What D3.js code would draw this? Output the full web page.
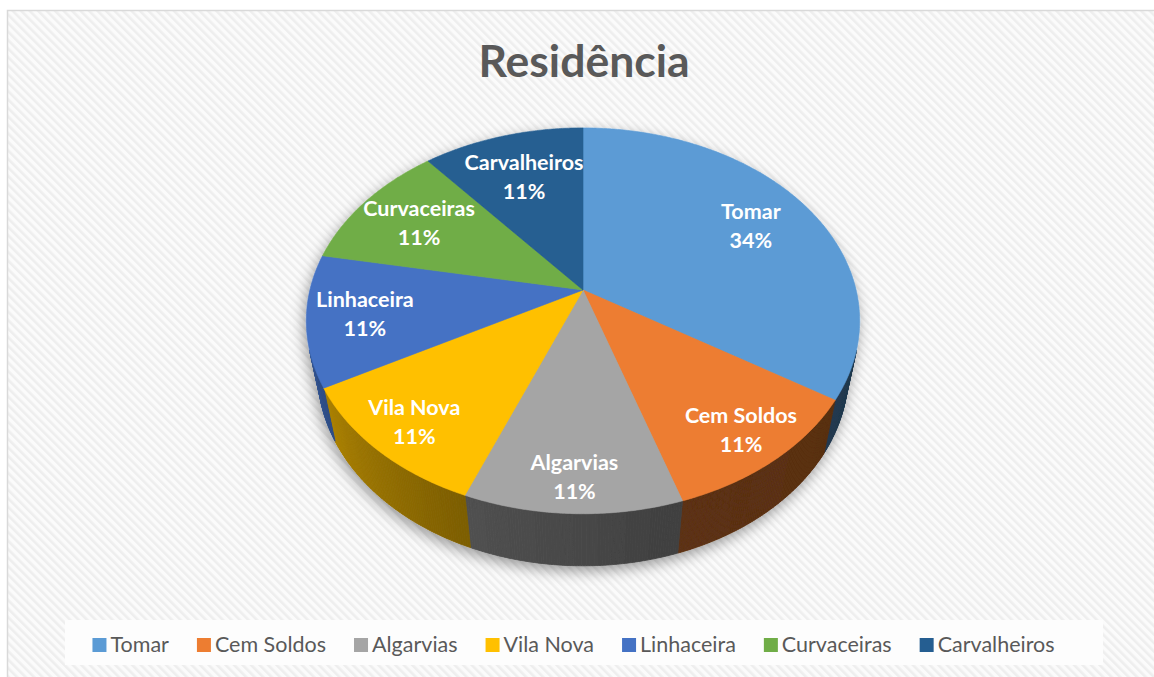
<!DOCTYPE html>
<html>
<head>
<meta charset="utf-8">
<script src="https://cdn.jsdelivr.net/npm/d3@7"></script>
<style>
  html, body { margin: 0; padding: 0; background: #ffffff; }
  svg { display: block; }
</style>
</head>
<body>
<svg id="chart" width="1154" height="677"></svg>
<script>
// ---- data ----
const title = "Residência";
const categories = ["Tomar", "Cem Soldos", "Algarvias", "Vila Nova", "Linhaceira", "Curvaceiras", "Carvalheiros"];
const values = [34, 11, 11, 11, 11, 11, 11];
const colors = ["#5B9BD5", "#ED7D31", "#A5A5A5", "#FFC000", "#4472C4", "#70AD47", "#255E91"];

// ---- layout ----
const W = 1154, H = 677;
const svg = d3.select("#chart");
const defs = svg.append("defs");

// background hatch pattern
const pat = defs.append("pattern")
  .attr("id", "hatch").attr("patternUnits", "userSpaceOnUse")
  .attr("width", 6).attr("height", 6)
  .attr("patternTransform", "rotate(-45)");
pat.append("rect").attr("width", 6).attr("height", 6).attr("fill", "#fbfbfb");
pat.append("rect").attr("width", 2.6).attr("height", 6).attr("fill", "#eeeeee");

const shadow = defs.append("filter").attr("id", "shadow")
  .attr("x", "-20%").attr("y", "-20%").attr("width", "140%").attr("height", "150%");
shadow.append("feDropShadow").attr("dx", -2).attr("dy", 5).attr("stdDeviation", 7)
  .attr("flood-color", "#000").attr("flood-opacity", 0.38);

svg.append("rect").attr("x", 0).attr("y", 0).attr("width", W).attr("height", H).attr("fill", "#ffffff");
svg.append("rect").attr("x", 7.5).attr("y", 10.5).attr("width", W).attr("height", H)
  .attr("fill", "url(#hatch)").attr("stroke", "#d9d9d9").attr("stroke-width", 1.5);

// title
svg.append("text").attr("x", 584).attr("y", 77)
  .attr("text-anchor", "middle")
  .attr("font-family", "Lato, 'Open Sans', sans-serif").attr("font-weight", 700)
  .attr("font-size", 44.5).attr("fill", "#595959")
  .text(title);

// ---- 3D perspective projection of the pie ----
const cx = 583, cy = 290;
const tilt = 43.5 * Math.PI / 180;
const sT = Math.sin(tilt), cT = Math.cos(tilt);
const Dist = 4.54, focal = 1240, depthH = 0.28;

function project(theta, r, Y) {
  const X = r * Math.sin(theta), Z = -r * Math.cos(theta);
  const dep = Dist - (Y * sT + Z * cT);
  return [cx + focal * X / dep, cy - focal * (Y * cT - Z * sT) / dep];
}

const pie = d3.pie().sort(null).value(d => d)(values);
const arcs = pie.map((p, i) => ({ ...p, name: categories[i], color: colors[i] }));
const total = d3.sum(values);

const pieG = svg.append("g").attr("filter", "url(#shadow)");
const lineClosed = d3.line().curve(d3.curveLinearClosed);

// visible wall range: -1 - Dist*cos(tilt)*cos(theta) > 0
const thLim = Math.acos(-1 / (Dist * cT));
const visA = thLim, visB = 2 * Math.PI - thLim;
const shade = d3.scaleLinear().domain([100, 165, 200, 252].map(d => d * Math.PI / 180))
  .range([0.36, 0.39, 0.48, 0.72]).clamp(true);

const step = Math.PI / 360;
const wallG = pieG.append("g");
arcs.forEach(a => {
  const a0 = Math.max(a.startAngle, visA), a1 = Math.min(a.endAngle, visB);
  if (a1 <= a0) return;
  const n = Math.max(1, Math.ceil((a1 - a0) / step));
  for (let k = 0; k < n; k++) {
    const t0 = a0 + (a1 - a0) * k / n, t1 = a0 + (a1 - a0) * (k + 1) / n;
    const kf = shade((t0 + t1) / 2);
    const c = d3.rgb(a.color);
    const col = d3.rgb(c.r * kf, c.g * kf, c.b * kf).formatHex();
    const pts = [project(t0, 1, 0), project(t1, 1, 0), project(t1, 1, -depthH), project(t0, 1, -depthH)];
    wallG.append("path").attr("d", lineClosed(pts))
      .attr("fill", col).attr("stroke", col).attr("stroke-width", 0.8);
  }
});

const topG = pieG.append("g");
arcs.forEach(a => {
  const n = Math.max(2, Math.ceil((a.endAngle - a.startAngle) / step));
  const pts = [[cx, cy]];
  for (let k = 0; k <= n; k++) {
    const t = a.startAngle + (a.endAngle - a.startAngle) * k / n;
    pts.push(project(t, 1, 0));
  }
  topG.append("path").attr("d", lineClosed(pts))
    .attr("fill", a.color).attr("stroke", a.color).attr("stroke-width", 0.6);
});

// data labels (label radius grows toward the front of the pie)
const fmt = v => Math.round(v / total * 100) + "%";
arcs.forEach(a => {
  const mid = (a.startAngle + a.endAngle) / 2;
  const labR = 0.78 + 0.08 * Math.cos(mid - Math.PI);
  const [lx, ly] = project(mid, labR, 0);
  const t = svg.append("text").attr("x", lx).attr("y", ly)
    .attr("text-anchor", "middle")
    .attr("font-family", "Lato, 'Open Sans', sans-serif").attr("font-weight", 700)
    .attr("font-size", 21.5).attr("fill", "#ffffff");
  t.append("tspan").attr("x", lx).attr("dy", -7).text(a.name);
  t.append("tspan").attr("x", lx).attr("dy", 29).text(fmt(a.data));
});

// legend
svg.append("rect").attr("x", 65).attr("y", 620).attr("width", 1038).attr("height", 45).attr("fill", "#fdfdfd");
const legG = svg.append("g");
let xPos = 0;
categories.forEach((name, i) => {
  const g = legG.append("g");
  g.append("rect").attr("x", xPos).attr("y", 638).attr("width", 14).attr("height", 14).attr("fill", colors[i]);
  const tx = g.append("text").attr("x", xPos + 18).attr("y", 651.5)
    .attr("font-family", "Lato, 'Open Sans', sans-serif").attr("font-size", 21.5)
    .attr("fill", "#595959").text(name);
  const w = tx.node().getComputedTextLength();
  xPos += 18 + w + 28;
});
const legW = xPos - 28;
legG.attr("transform", `translate(${573.5 - legW / 2},0)`);
</script>
</body>
</html>
